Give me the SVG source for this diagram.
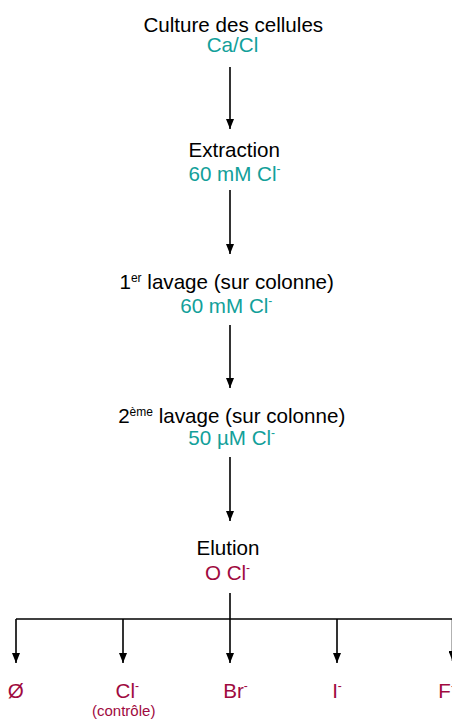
<svg xmlns="http://www.w3.org/2000/svg" width="452" height="722" viewBox="0 0 452 722">
<defs>
<style>
text{font-family:"Liberation Sans",Arial,sans-serif;font-size:20.6px;text-anchor:middle}
.k{fill:#000}
.t{fill:#12a09a}
.m{fill:#a00a40}
.sup{font-size:12px}
.small{font-size:15px}
.c line{stroke:#000;stroke-width:1.6;fill:none}
</style>
<marker id="ah" viewBox="0 0 10 8" refX="10" refY="4" markerWidth="10" markerHeight="8" markerUnits="userSpaceOnUse" orient="auto">
<path d="M0,0 L10,4 L0,8 z" fill="#000"/>
</marker>
</defs>
<rect width="452" height="722" fill="#fff"/>
<g class="c" id="connectors">
<line x1="230" y1="67" x2="230" y2="129" marker-end="url(#ah)"/>
<line x1="230" y1="190" x2="230" y2="254" marker-end="url(#ah)"/>
<line x1="230" y1="325" x2="230" y2="388" marker-end="url(#ah)"/>
<line x1="230" y1="457" x2="230" y2="521" marker-end="url(#ah)"/>
<line x1="230" y1="593" x2="230" y2="663" marker-end="url(#ah)"/>
<line x1="16" y1="619" x2="453" y2="619"/>
<line x1="16" y1="619" x2="16" y2="663" marker-end="url(#ah)"/>
<line x1="123" y1="619" x2="123" y2="663" marker-end="url(#ah)"/>
<line x1="337" y1="619" x2="337" y2="663" marker-end="url(#ah)"/>
<line x1="452.5" y1="619" x2="452.5" y2="661" marker-end="url(#ah)"/>
</g>
<g id="culture">
<text class="k" x="233.3" y="31.5">Culture des cellules</text>
<text class="t" x="232.5" y="52">Ca/Cl</text>
</g>
<g id="extraction">
<text class="k" x="234.2" y="157">Extraction</text>
<text class="t" x="234.5" y="180.5">60 mM Cl<tspan class="sup" dy="-8">-</tspan></text>
</g>
<g id="lavage1">
<text class="k" x="226.7" y="288.5">1<tspan class="sup" dy="-7">er</tspan><tspan dy="7"> lavage (sur colonne)</tspan></text>
<text class="t" x="226.3" y="313">60 mM Cl<tspan class="sup" dy="-8">-</tspan></text>
</g>
<g id="lavage2">
<text class="k" x="231.7" y="422.5">2<tspan class="sup" dy="-7">ème</tspan><tspan dy="7"> lavage (sur colonne)</tspan></text>
<text class="t" x="231.7" y="445">50 µM Cl<tspan class="sup" dy="-8">-</tspan></text>
</g>
<g id="elution">
<text class="k" x="228" y="555">Elution</text>
<text class="m" x="227.5" y="580">O Cl<tspan class="sup" dy="-8">-</tspan></text>
</g>
<g id="vide">
<text class="m" x="15.8" y="697.5">Ø</text>
</g>
<g id="chlorure">
<text class="m" x="127.3" y="697.5">Cl<tspan class="sup" dy="-8">-</tspan></text>
<text class="m small" x="123.7" y="716">(contrôle)</text>
</g>
<g id="bromure">
<text class="m" x="235.5" y="697.5">Br<tspan class="sup" dy="-8">-</tspan></text>
</g>
<g id="iodure">
<text class="m" x="337" y="697.5">I<tspan class="sup" dy="-8">-</tspan></text>
</g>
<g id="fluorure">
<text class="m" x="438.3" y="697.5" style="text-anchor:start">F<tspan class="sup" dy="-8">-</tspan></text>
</g>
</svg>
